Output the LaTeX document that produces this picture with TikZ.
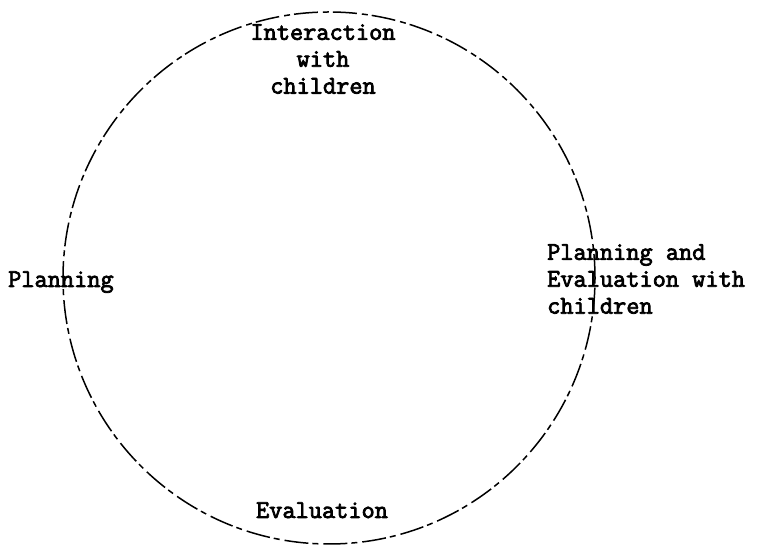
\documentclass[tikz,border=0pt]{standalone}
\usepackage{fontspec}
\usepackage{tikz}
\newfontfamily\phasefont[FakeBold=3]{Latin Modern Mono}

\begin{document}
\begin{tikzpicture}[
  x=1bp, y=1bp,
  cycleline/.style={line width=1.5bp, dash pattern=on 24bp off 4bp on 6bp off 5bp},
  phase/.style={font=\fontsize{25.7}{27}\selectfont\phasefont, inner sep=0pt}
]
  \useasboundingbox (0,0) rectangle (757,546);

  % The cycle
  \coordinate (c) at (329,268);
  \draw[cycleline] (c) circle [radius=266];

  % Phases round the cycle
  \node[phase, align=center, anchor=north] (interact) at (323,522) {Interaction\\with\\children};
  \node[phase, align=left, anchor=north west] (plannev) at (547,302) {Planning and\\Evaluation with\\children};
  \node[phase, anchor=base] (eval) at (322,28) {Evaluation};
  \node[phase, anchor=base west] (plan) at (8,259) {Planning};
\end{tikzpicture}
\end{document}
